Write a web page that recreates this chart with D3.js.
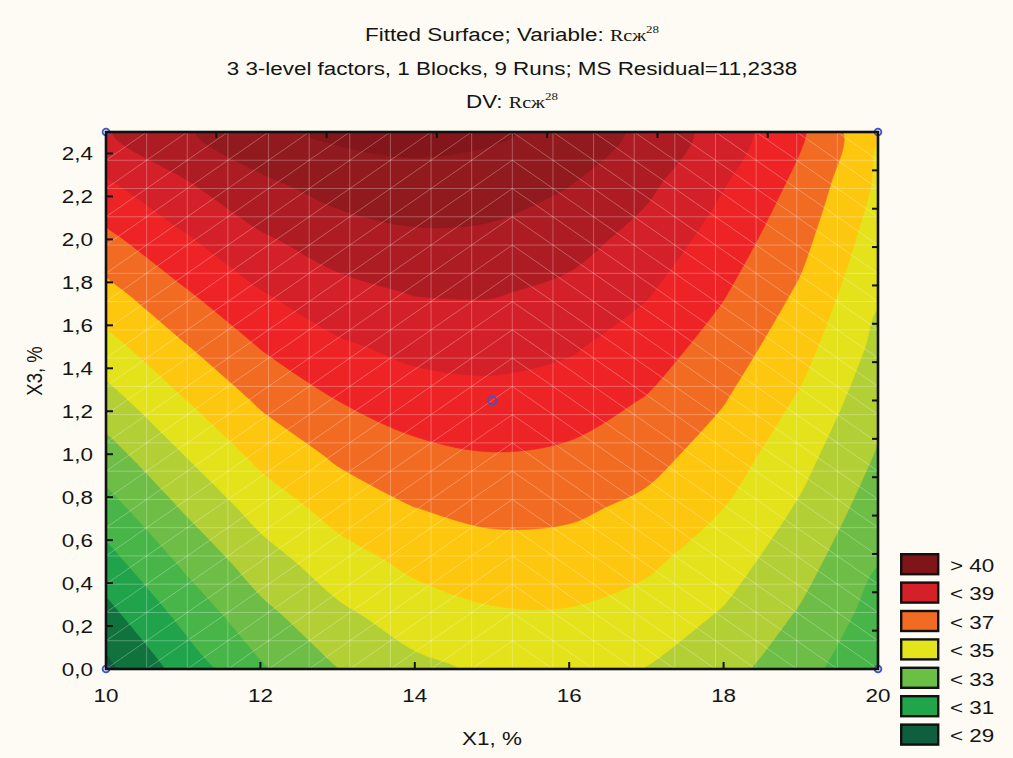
<!DOCTYPE html>
<html><head><meta charset="utf-8">
<script src="https://cdn.jsdelivr.net/npm/d3@7"></script>
<style>
body{margin:0;background:#fdfbf3}
svg{display:block}
text{font-family:"Liberation Sans",Arial,sans-serif;fill:#141414}
</style>
</head><body>
<svg id="chart" width="1013" height="758"></svg>
<script>
// ---------------- data ----------------
const x1Values = [10, 11, 12, 13, 14, 15, 16, 17, 18, 19, 20];
const x3Values = [0, 0.25, 0.5, 0.75, 1.0, 1.25, 1.5, 1.75, 2.0, 2.25, 2.5];
// fitted Rcж28 values: one row per X3 value, columns follow x1Values
const zRow000 = [28.73, 30.38, 31.85, 32.98, 33.75, 34.17, 34.25, 33.97, 33.34, 32.37, 31.10];
const zRow025 = [29.67, 31.26, 32.69, 33.77, 34.49, 34.87, 34.90, 34.58, 33.90, 32.88, 31.58];
const zRow050 = [30.63, 32.16, 33.54, 34.56, 35.24, 35.57, 35.55, 35.18, 34.45, 33.38, 32.04];
const zRow075 = [31.60, 33.08, 34.40, 35.37, 35.99, 36.27, 36.19, 35.77, 35.00, 33.87, 32.49];
const zRow100 = [32.60, 34.00, 35.27, 36.18, 36.75, 36.97, 36.84, 36.36, 35.53, 34.35, 32.92];
const zRow125 = [33.61, 34.94, 36.15, 37.00, 37.51, 37.67, 37.48, 36.94, 36.05, 34.86, 33.33];
const zRow150 = [34.64, 35.90, 37.04, 37.83, 38.28, 38.37, 38.12, 37.51, 36.56, 35.36, 33.73];
const zRow175 = [35.68, 36.87, 37.94, 38.67, 39.04, 39.07, 38.75, 38.08, 37.07, 35.84, 34.11];
const zRow200 = [36.75, 37.85, 38.85, 39.51, 39.82, 39.77, 39.38, 38.64, 37.56, 36.29, 34.48];
const zRow225 = [37.82, 38.85, 39.78, 40.36, 40.59, 40.47, 40.01, 39.20, 38.04, 36.72, 34.83];
const zRow250 = [38.92, 39.86, 40.71, 41.21, 41.37, 41.18, 40.64, 39.75, 38.52, 37.15, 35.04];
const zRows = [zRow000, zRow025, zRow050, zRow075, zRow100, zRow125, zRow150, zRow175, zRow200, zRow225, zRow250];

const levels = [29, 30, 31, 32, 33, 34, 35, 36, 37, 38, 39, 40, 41];
const bandColors = ["#125a3c", "#10723d", "#20a34b", "#48b549", "#6dbd46", "#b3cf36", "#e3e21b",
                    "#fec70f", "#f26b22", "#ee2326", "#d42028", "#ad1c23", "#911a1e", "#82161a"];

const legendLabels = ["> 40", "< 39", "< 37", "< 35", "< 33", "< 31", "< 29"];
const legendColors = ["#7f1518", "#d42028", "#f26b22", "#e4e41c", "#6cbf45", "#21a54b", "#0f5e3d"];

const xTicks = [10, 12, 14, 16, 18, 20];
const yTicks = [0, 0.2, 0.4, 0.6, 0.8, 1.0, 1.2, 1.4, 1.6, 1.8, 2.0, 2.2, 2.4];

const designX1 = [15, 10, 10, 20, 20];
const designX3 = [1.25, 0, 2.5, 0, 2.5];

const titleLine1 = "Fitted Surface; Variable: ";
const titleLine2 = "3 3-level factors, 1 Blocks, 9 Runs; MS Residual=11,2338";
const titleLine3 = "DV: ";
const varName = "Rсж";
const varSup = "28";

// ---------------- layout ----------------
const svg = d3.select("#chart");
const L = 106, R = 878, T = 132, B = 669;
const STRETCH = 1.18, FS = 19;
const fmt = d => d.toFixed(1).replace(".", ",");

svg.append("rect").attr("width", 1013).attr("height", 758).attr("fill", "#fdfbf3");

const xScale = d3.scaleLinear().domain([10, 20]).range([L, R]);
const yScale = d3.scaleLinear().domain([0, 2.5]).range([B, T]);

function stretchedText(x, y, anchor, size) {
  return svg.append("text")
    .attr("transform", `translate(${x},${y}) scale(${STRETCH},1)`)
    .attr("text-anchor", anchor)
    .style("font-size", size + "px");
}

// ---------------- contours ----------------
const nx = x1Values.length, ny = x3Values.length;
const flat = [];
zRows.forEach(r => r.forEach(v => flat.push(v)));
const gx = d3.scaleLinear().domain([0.5, nx - 0.5]).range([x1Values[0], x1Values[nx - 1]]);
const gy = d3.scaleLinear().domain([0.5, ny - 0.5]).range([x3Values[0], x3Values[ny - 1]]);
const contours = d3.contours().size([nx, ny]).thresholds(levels)(flat);

const smoothLine = d3.line().curve(d3.curveCatmullRomClosed.alpha(0.5));
function ringPath(ring) {
  const pts = [];
  ring.slice(0, -1).forEach(([x, y]) => {
    const p = [xScale(gx(x)), yScale(gy(y))];
    const q = pts[pts.length - 1];
    if (!q || Math.abs(q[0] - p[0]) > 0.01 || Math.abs(q[1] - p[1]) > 0.01) pts.push(p);
  });
  return smoothLine(pts);
}

svg.append("clipPath").attr("id", "plotClip")
  .append("rect").attr("x", L).attr("y", T).attr("width", R - L).attr("height", B - T);

const plot = svg.append("g").attr("clip-path", "url(#plotClip)");
plot.append("rect").attr("x", L).attr("y", T).attr("width", R - L).attr("height", B - T)
  .attr("fill", bandColors[0]);
contours.forEach((c, i) => {
  const d = c.coordinates.map(poly => poly.map(ringPath).join("")).join("");
  plot.append("path")
    .attr("d", d)
    .attr("fill-rule", "evenodd")
    .attr("fill", bandColors[i + 1])
    .attr("stroke", bandColors[i + 1])
    .attr("stroke-width", 0.6);
});

// mesh of the fitted surface (20 x 20 nodes)
const meshN = 20;
const meshU = d3.range(meshN).map(k => 10 + k * 10 / (meshN - 1));
const meshV = d3.range(meshN).map(k => k * 2.5 / (meshN - 1));
const mesh = plot.append("g").attr("stroke", "#ffffff").attr("stroke-opacity", 0.28).attr("stroke-width", 1).attr("fill", "none");
meshU.forEach(u => mesh.append("line").attr("x1", xScale(u)).attr("x2", xScale(u)).attr("y1", T).attr("y2", B));
meshV.forEach(v => mesh.append("line").attr("y1", yScale(v)).attr("y2", yScale(v)).attr("x1", L).attr("x2", R));
for (let c = 0; c < meshN - 1; c++) {
  for (let r = 0; r < meshN - 1; r++) {
    const u0 = meshU[c], u1 = meshU[c + 1], v0 = meshV[r], v1 = meshV[r + 1];
    if (c < 10) {
      mesh.append("line").attr("x1", xScale(u0)).attr("y1", yScale(v0)).attr("x2", xScale(u1)).attr("y2", yScale(v1));
    } else {
      mesh.append("line").attr("x1", xScale(u0)).attr("y1", yScale(v1)).attr("x2", xScale(u1)).attr("y2", yScale(v0));
    }
  }
}

// design points (drawn under the frame)
svg.selectAll("circle.pt").data(designX1).join("circle")
  .attr("class", "pt")
  .attr("cx", d => xScale(d))
  .attr("cy", (d, i) => yScale(designX3[i]))
  .attr("r", (d, i) => i === 0 ? 4.2 : 3.4)
  .attr("fill", "none").attr("stroke", "#3a56c8").attr("stroke-width", 1.8);

// ---------------- frame & ticks ----------------
const axisG = svg.append("g").attr("stroke", "#111").attr("stroke-width", 2);
yTicks.forEach(t => {
  axisG.append("line").attr("x1", L).attr("x2", L + 7).attr("y1", yScale(t)).attr("y2", yScale(t));
});
xTicks.forEach(t => {
  axisG.append("line").attr("x1", xScale(t)).attr("x2", xScale(t)).attr("y1", B).attr("y2", B - 7);
});
d3.range(1, 7).map(k => 10 + k * 10 / 7).forEach(t => {
  axisG.append("line").attr("x1", xScale(t)).attr("x2", xScale(t)).attr("y1", T).attr("y2", T + 6);
});
d3.range(1, 14).map(k => k * 2.5 / 14).forEach(t => {
  axisG.append("line").attr("x1", R).attr("x2", R - 6).attr("y1", yScale(t)).attr("y2", yScale(t));
});
svg.append("rect").attr("x", L).attr("y", T).attr("width", R - L).attr("height", B - T)
  .attr("fill", "none").attr("stroke", "#111").attr("stroke-width", 2.6);

// tick labels
yTicks.forEach(t => stretchedText(93, yScale(t) + 7, "end", FS).text(fmt(t)));
xTicks.forEach(t => stretchedText(xScale(t), 702, "middle", FS).text(t));

// axis titles
stretchedText((L + R) / 2, 745, "middle", FS).text("X1, %");
svg.append("text")
  .attr("transform", "translate(42,371) rotate(-90) scale(1,1.18)")
  .attr("text-anchor", "middle")
  .style("font-size", "18.5px")
  .text("X3, %");

// titles
function titleWithVar(y, prefix) {
  const t = stretchedText(512, y, "middle", FS);
  t.append("tspan").text(prefix);
  t.append("tspan").style("font-family", "'Liberation Serif','Times New Roman',serif").style("font-size", "17px").text(varName);
  t.append("tspan").style("font-family", "'Liberation Serif','Times New Roman',serif").style("font-size", "11px").attr("dy", -8).text(varSup);
}
titleWithVar(41, titleLine1);
stretchedText(512, 75, "middle", FS).text(titleLine2);
titleWithVar(107.5, titleLine3);

// legend
const lg = svg.append("g");
legendLabels.forEach((lab, i) => {
  const y0 = 553 + i * 28.4;
  lg.append("rect").attr("x", 901.2).attr("y", y0 + 1.2).attr("width", 37).attr("height", 20)
    .attr("fill", legendColors[i]).attr("stroke", "#111").attr("stroke-width", 2.4);
  stretchedText(950, y0 + 19, "start", FS).text(lab);
});
</script>
</body></html>
